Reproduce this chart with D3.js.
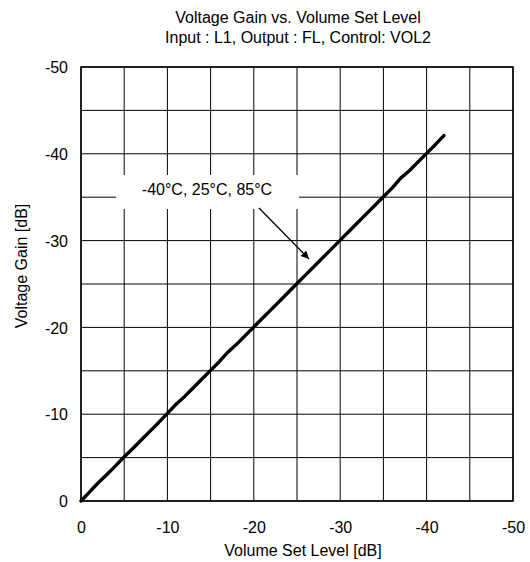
<!DOCTYPE html>
<html><head><meta charset="utf-8">
<script src="https://cdn.jsdelivr.net/npm/d3@7"></script>
<style>body{margin:0;background:#fff}svg{display:block}text{font-family:"Liberation Sans",Arial,sans-serif;fill:#000}</style>
</head><body><svg id="c" width="530" height="562"></svg>
<script>
const titleLines = ["Voltage Gain vs. Volume Set Level", "Input : L1, Output : FL, Control: VOL2"];
const xLabel = "Volume Set Level [dB]";
const yLabel = "Voltage Gain [dB]";
const xTicks = [0, -10, -20, -30, -40, -50];
const yTicks = [0, -10, -20, -30, -40, -50];
const gridSteps = [0, -5, -10, -15, -20, -25, -30, -35, -40, -45, -50];
const volumeSet = [0, -1, -2, -3, -4, -5, -6, -7, -8, -9, -10, -11, -12, -13, -14, -15, -16, -17, -18, -19, -20, -21, -22, -23, -24, -25, -26, -27, -28, -29, -30, -31, -32, -33, -34, -35, -36, -37, -38, -39, -40, -41, -42];
const voltageGain = [0, -1.05, -2.1, -3.05, -4.05, -5.1, -6.05, -7.05, -8.05, -9.05, -10.1, -11.15, -12.05, -13.05, -14.05, -15.05, -16.05, -17.15, -18.05, -19.05, -20.05, -21.05, -22.05, -23.05, -24.05, -25.05, -26.05, -27.05, -28.05, -29.05, -30.05, -31.05, -32.05, -33.05, -34.05, -35.05, -36.05, -37.2, -38.05, -39.05, -40.05, -41.05, -42.1];
const annotation = "-40°C, 25°C, 85°C";

const svg = d3.select("#c");
const L = 81, R = 513, T = 67, B = 501;
const x = d3.scaleLinear().domain([0, -50]).range([L, R]);
const y = d3.scaleLinear().domain([0, -50]).range([B, T]);
const FS = 16;
const fmt = d => String(d);

// title
svg.selectAll(".title").data(titleLines).enter().append("text")
  .attr("x", 298).attr("y", (d, i) => 23 + i * 20)
  .attr("text-anchor", "middle").attr("font-size", FS).text(d => d);

// grid
const g = svg.append("g");
g.selectAll(".vg").data(gridSteps).enter().append("line")
  .attr("x1", d => x(d)).attr("x2", d => x(d)).attr("y1", T).attr("y2", B)
  .attr("stroke", "#000").attr("stroke-width", 1);
g.selectAll(".hg").data(gridSteps).enter().append("line")
  .attr("y1", d => y(d)).attr("y2", d => y(d)).attr("x1", L).attr("x2", R)
  .attr("stroke", "#000").attr("stroke-width", 1);
svg.append("rect").attr("x", L).attr("y", T).attr("width", R - L).attr("height", B - T)
  .attr("fill", "none").attr("stroke", "#000").attr("stroke-width", 1.5);

// axes labels
const xa = svg.append("g").attr("transform", `translate(0,${B + 32})`)
  .call(d3.axisBottom(x).tickValues(xTicks).tickFormat(fmt).tickSize(0));
xa.select(".domain").remove();
xa.selectAll("text").attr("font-size", FS).attr("font-family", '"Liberation Sans",Arial,sans-serif').attr("dy", 0).attr("y", 0);
const ya = svg.append("g").attr("transform", `translate(68,0)`)
  .call(d3.axisLeft(y).tickValues(yTicks).tickFormat(fmt).tickSize(0));
ya.select(".domain").remove();
ya.selectAll("text").attr("font-size", FS).attr("font-family", '"Liberation Sans",Arial,sans-serif').attr("x", 0).attr("dy", "0.35em");

svg.append("text").attr("x", 303).attr("y", 556).attr("text-anchor", "middle")
  .attr("font-size", FS).text(xLabel);
svg.append("text").attr("transform", `translate(27,266) rotate(-90)`)
  .attr("text-anchor", "middle").attr("font-size", FS).text(yLabel);

// data line
const line = d3.line().x((d, i) => x(volumeSet[i])).y(d => y(d));
svg.append("path").datum(voltageGain).attr("d", line)
  .attr("fill", "none").attr("stroke", "#000").attr("stroke-width", 3.4)
  .attr("stroke-linejoin", "round").attr("stroke-linecap", "round");

// annotation
svg.append("rect").attr("x", 116).attr("y", 175).attr("width", 183).attr("height", 34).attr("fill", "#fff");
svg.append("text").attr("x", 207).attr("y", 195).attr("text-anchor", "middle").attr("font-size", FS).text(annotation);
svg.append("defs").append("marker").attr("id", "ah").attr("viewBox", "0 0 10 10")
  .attr("refX", 10).attr("refY", 5).attr("markerWidth", 10).attr("markerHeight", 8).attr("orient", "auto")
  .attr("markerUnits", "userSpaceOnUse")
  .append("path").attr("d", "M0,0 L10,5 L0,10 Z").attr("fill", "#000");
svg.append("line").attr("x1", 259).attr("y1", 208).attr("x2", 309).attr("y2", 259)
  .attr("stroke", "#000").attr("stroke-width", 1.3).attr("marker-end", "url(#ah)");
</script></body></html>
